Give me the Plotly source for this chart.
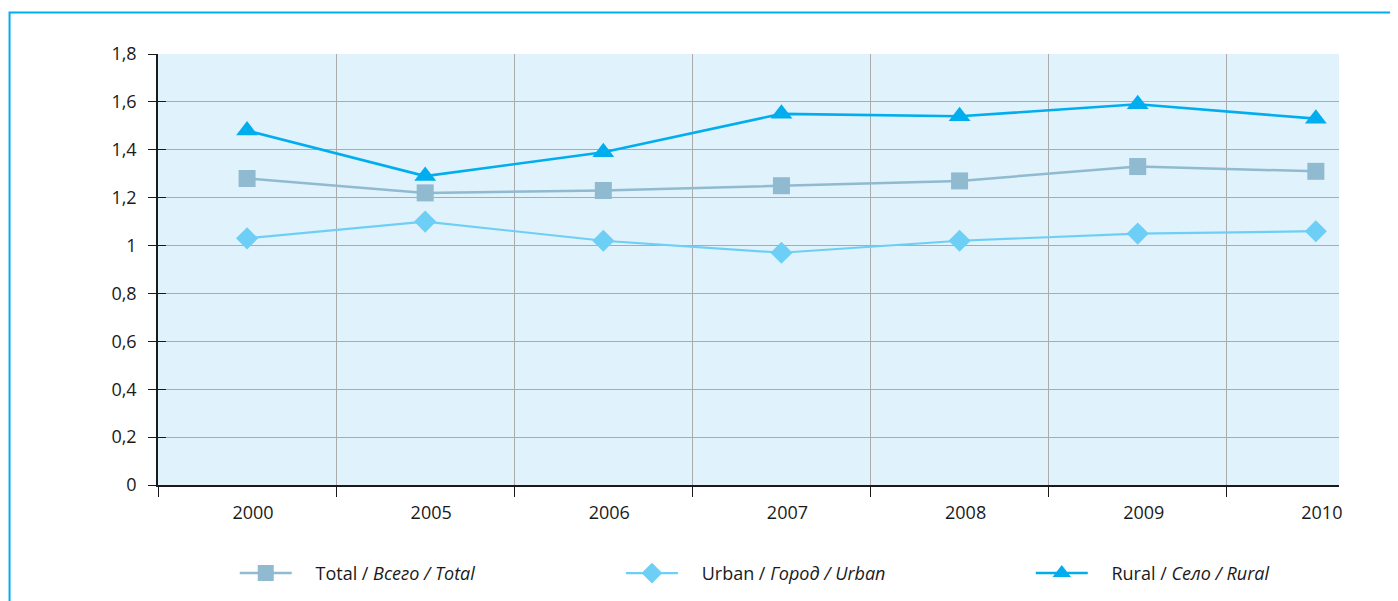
import plotly.graph_objects as go

years = ["2000", "2005", "2006", "2007", "2008", "2009", "2010"]
total = [1.28, 1.22, 1.23, 1.25, 1.27, 1.33, 1.31]
urban = [1.03, 1.10, 1.02, 0.97, 1.02, 1.05, 1.06]
rural = [1.48, 1.29, 1.39, 1.55, 1.54, 1.59, 1.53]

y_tickvals = [0, 0.2, 0.4, 0.6, 0.8, 1.0, 1.2, 1.4, 1.6, 1.8]
y_ticktext = ["0", "0,2", "0,4", "0,6", "0,8", "1", "1,2", "1,4", "1,6", "1,8"]
grid_vals = [0.2, 0.4, 0.6, 0.8, 1.0, 1.2, 1.4, 1.6]

PAD = "\u00a0" * 4
names = [PAD + "Total / <i>Всего / Total</i>",
         PAD + "Urban / <i>Город / Urban</i>",
         PAD + "Rural / <i>Село / Rural</i>"]
colors = ["#8FBACF", "#6DCFF6", "#00AEEF"]
symbols = ["square", "diamond", "triangle-up"]
sizes = [17, 17, 19]
widths = [2.5, 2.2, 2.6]
legends = ["legend", "legend2", "legend3"]

FONT = "Open Sans"
TXT = "#1a1a1a"

fig = go.Figure()
for vals, name, c, s, sz, w, lg in zip([total, urban, rural], names, colors, symbols, sizes, widths, legends):
    fig.add_trace(go.Scatter(
        x=years, y=vals, name=name, mode="lines+markers",
        line=dict(color=c, width=w),
        marker=dict(symbol=s, size=sz, color=c, line=dict(width=0)),
        legend=lg,
    ))

# invisible trace anchoring the grid axis
fig.add_trace(go.Scatter(x=[years[0]], y=[0], yaxis="y2", mode="markers",
                         marker=dict(opacity=0), showlegend=False, hoverinfo="skip"))

leg_common = dict(orientation="h", xanchor="left", yanchor="middle",
                  font=dict(family=FONT, size=18, color=TXT),
                  bgcolor="rgba(0,0,0,0)", itemwidth=52)

fig.update_layout(
    width=1398, height=601,
    margin=dict(l=150, r=67, t=46, b=124),
    paper_bgcolor="white",
    plot_bgcolor="#E0F2FB",
    font=dict(family=FONT, size=18, color=TXT),
    legend=dict(x=0.065, y=-0.205, **leg_common),
    legend2=dict(x=0.392, y=-0.205, **leg_common),
    legend3=dict(x=0.739, y=-0.205, **leg_common),
    xaxis=dict(
        type="category", range=[-0.5, 6.13], tickson="boundaries",
        showgrid=True, gridcolor="#ABABAB", gridwidth=1.2,
        showline=True, linecolor=TXT, linewidth=1.5,
        ticks="outside", ticklen=10, tickcolor=TXT, tickwidth=1.3,
        ticklabelshift=6, ticklabelstandoff=11,
        tickfont=dict(family=FONT, size=18, color=TXT),
        zeroline=False,
    ),
    yaxis=dict(
        range=[0, 1.8], tickmode="array", tickvals=y_tickvals, ticktext=y_ticktext,
        showgrid=False, showline=True, linecolor=TXT, linewidth=1.5,
        ticks="outside", ticklen=8, tickcolor=TXT, tickwidth=1.3,
        ticklabelstandoff=8,
        tickfont=dict(family=FONT, size=18, color=TXT),
        zeroline=False,
    ),
    yaxis2=dict(
        overlaying="y", side="left", range=[0, 1.8], tickmode="array", tickvals=grid_vals,
        showgrid=True, gridcolor="#ABABAB", gridwidth=1.2,
        showticklabels=False, ticks="inside", ticklen=8, tickcolor=TXT, tickwidth=1.3,
        showline=False, zeroline=False,
    ),
    shapes=[dict(type="rect", xref="paper", yref="paper",
                 x0=-0.1257, x1=1.5, y0=-1.0, y1=1.0963,
                 line=dict(color="#00AEEF", width=2), fillcolor="rgba(0,0,0,0)", layer="above")],
)

fig.write_html("out.html")
